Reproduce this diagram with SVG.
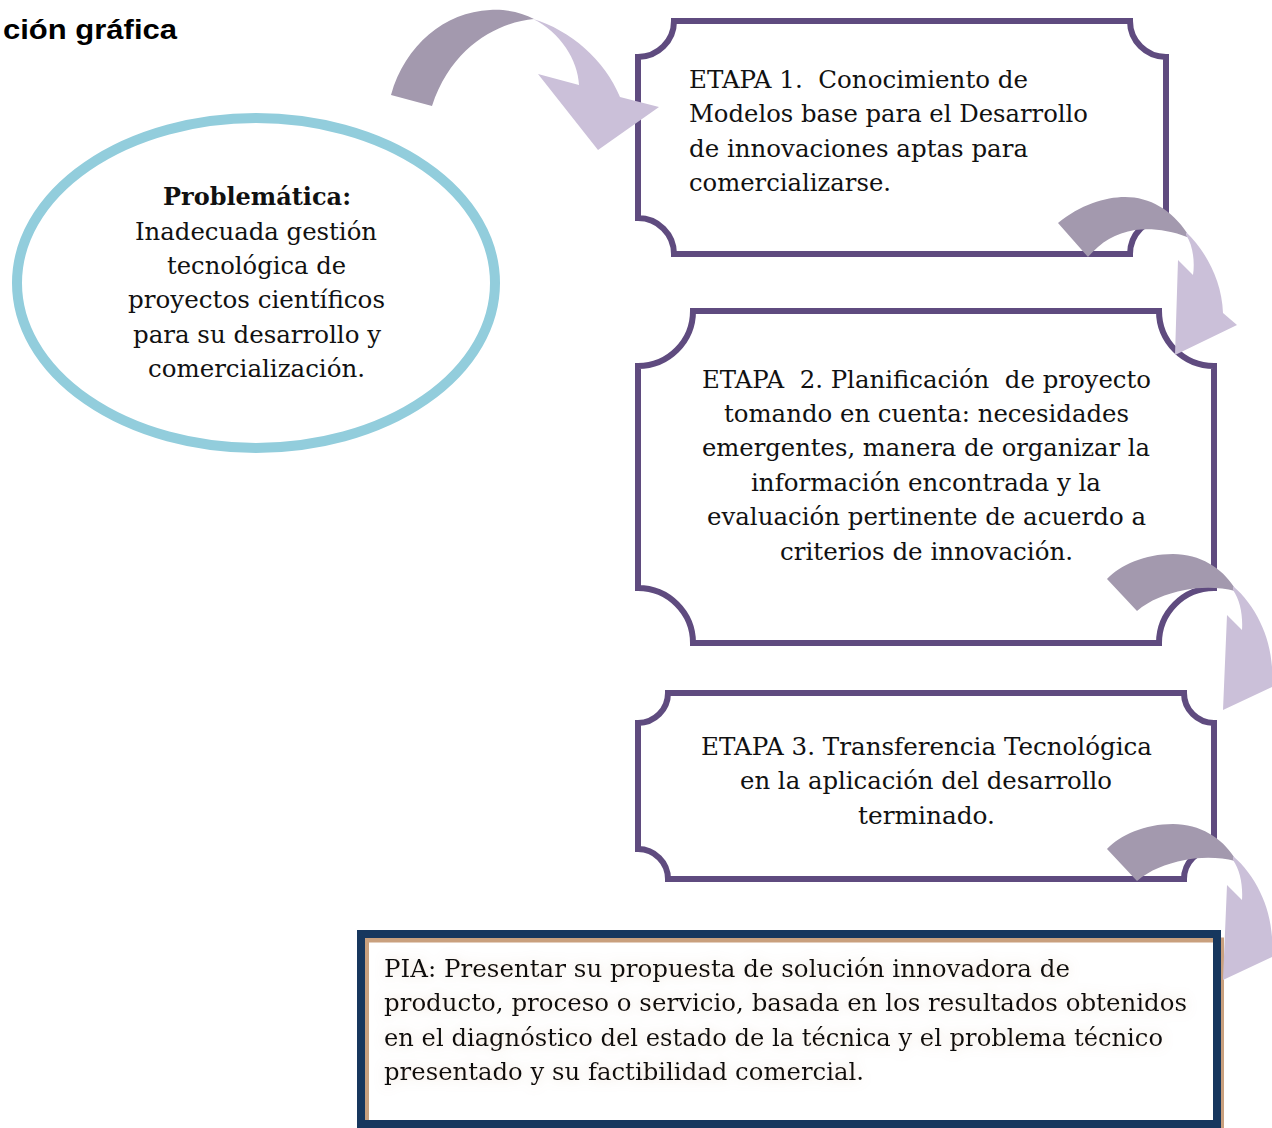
<svg xmlns="http://www.w3.org/2000/svg" width="1272" height="1128" viewBox="0 0 1272 1128">
<defs>
<style>
.t{font-family:"DejaVu Serif","Liberation Serif",serif;font-size:25px;fill:#111;white-space:pre}
.b{font-weight:bold}
.box{fill:#fff;stroke:#5f4b7f;stroke-width:6}
.dk{fill:#a399ae}
.lt{fill:#cbc0d9}
</style>
<filter id="glow" x="-5%" y="-20%" width="110%" height="140%">
<feGaussianBlur in="SourceAlpha" stdDeviation="6" result="b"/>
<feFlood flood-color="#c9a07e" flood-opacity="0.35"/>
<feComposite in2="b" operator="in" result="s"/>
<feMerge><feMergeNode in="s"/><feMergeNode in="SourceGraphic"/></feMerge>
</filter>
</defs>
<rect width="1272" height="1128" fill="#fff"/>
<text x="3" y="39" textLength="174" lengthAdjust="spacingAndGlyphs" style="font-family:'Liberation Sans',Arial,sans-serif;font-weight:bold;font-size:27px;fill:#000">ción gráfica</text>

<g id="problematica">
<ellipse cx="256" cy="283" rx="239" ry="165" fill="#fff" stroke="#92cddc" stroke-width="10"/>
<text class="t b" x="163" y="205" textLength="188" lengthAdjust="spacingAndGlyphs">Problemática:</text>
<text class="t" x="135" y="240" textLength="242" lengthAdjust="spacingAndGlyphs">Inadecuada gestión</text>
<text class="t" x="167" y="274" textLength="179" lengthAdjust="spacingAndGlyphs">tecnológica de</text>
<text class="t" x="128" y="308" textLength="257" lengthAdjust="spacingAndGlyphs">proyectos científicos</text>
<text class="t" x="133" y="343" textLength="248" lengthAdjust="spacingAndGlyphs">para su desarrollo y</text>
<text class="t" x="148" y="377" textLength="217" lengthAdjust="spacingAndGlyphs">comercialización.</text>
</g>

<g id="etapa1">
<path class="box" d="M674,21 L1130,21 A36,36 0 0 0 1166,57 L1166,218 A36,36 0 0 0 1130,254 L674,254 A36,36 0 0 0 638,218 L638,57 A36,36 0 0 0 674,21 Z"/>
<text class="t" x="689" y="88" textLength="339" lengthAdjust="spacingAndGlyphs">ETAPA 1.  Conocimiento de</text>
<text class="t" x="689" y="122" textLength="399" lengthAdjust="spacingAndGlyphs">Modelos base para el Desarrollo</text>
<text class="t" x="689" y="157" textLength="339" lengthAdjust="spacingAndGlyphs">de innovaciones aptas para</text>
<text class="t" x="689" y="191" textLength="202" lengthAdjust="spacingAndGlyphs">comercializarse.</text>
</g>

<g id="etapa2">
<path class="box" d="M693,311 L1159,311 A55,55 0 0 0 1214,366 L1214,588 A55,55 0 0 0 1159,643 L693,643 A55,55 0 0 0 638,588 L638,366 A55,55 0 0 0 693,311 Z"/>
<text class="t" x="702" y="388" textLength="449" lengthAdjust="spacingAndGlyphs">ETAPA  2. Planificación  de proyecto</text>
<text class="t" x="724" y="422" textLength="405" lengthAdjust="spacingAndGlyphs">tomando en cuenta: necesidades</text>
<text class="t" x="702" y="456" textLength="448" lengthAdjust="spacingAndGlyphs">emergentes, manera de organizar la</text>
<text class="t" x="751" y="491" textLength="350" lengthAdjust="spacingAndGlyphs">información encontrada y la</text>
<text class="t" x="707" y="525" textLength="439" lengthAdjust="spacingAndGlyphs">evaluación pertinente de acuerdo a</text>
<text class="t" x="780" y="560" textLength="293" lengthAdjust="spacingAndGlyphs">criterios de innovación.</text>
</g>

<g id="etapa3">
<path class="box" d="M668,693 L1184,693 A30,30 0 0 0 1214,723 L1214,849 A30,30 0 0 0 1184,879 L668,879 A30,30 0 0 0 638,849 L638,723 A30,30 0 0 0 668,693 Z"/>
<text class="t" x="701" y="755" textLength="451" lengthAdjust="spacingAndGlyphs">ETAPA 3. Transferencia Tecnológica</text>
<text class="t" x="740" y="789" textLength="372" lengthAdjust="spacingAndGlyphs">en la aplicación del desarrollo</text>
<text class="t" x="858" y="824" textLength="137" lengthAdjust="spacingAndGlyphs">terminado.</text>
</g>

<g id="pia">
<rect x="366.5" y="940" width="855" height="200" fill="#fff" stroke="#c9a07e" stroke-width="5"/>
<rect x="361" y="934" width="856" height="190" fill="none" stroke="#17375e" stroke-width="8"/>
<g filter="url(#glow)">
<text class="t" x="384" y="977" textLength="686" lengthAdjust="spacingAndGlyphs">PIA: Presentar su propuesta de solución innovadora de</text>
<text class="t" x="384" y="1011" textLength="803" lengthAdjust="spacingAndGlyphs">producto, proceso o servicio, basada en los resultados obtenidos</text>
<text class="t" x="384" y="1046" textLength="779" lengthAdjust="spacingAndGlyphs">en el diagnóstico del estado de la técnica y el problema técnico</text>
<text class="t" x="384" y="1080" textLength="480" lengthAdjust="spacingAndGlyphs">presentado y su factibilidad comercial.</text>
</g>
</g>

<g id="connectors">
<g id="arrow0">
<path class="dk" d="M391,95 C405,45 445,12 490,10 C508,9 522,13 534,19 C500,22 452,45 432,106 Z"/>
<path class="lt" d="M533,19 C570,30 605,60 620,97 L659,107 L598,150 L538,74 L579,85 C578,60 560,32 533,19 Z"/>
</g>
<g id="arrow1">
<path class="dk" d="M1058,223 C1080,205 1105,197 1125,197 C1150,197 1172,210 1187,233 L1187,237 C1170,230 1150,228 1135,230 C1115,233 1100,243 1088,257 Z"/>
<path class="lt" d="M1186,232 C1205,250 1222,280 1223,313 L1237,325 L1175,355 L1178,260 L1193,275 C1195,262 1193,245 1186,235 Z"/>
</g>
<g id="arrow2">
<path class="dk" d="M1107,579 C1120,565 1145,554 1173,554 C1200,554 1222,568 1234,587 L1235,591 C1220,587 1200,587 1185,590 C1165,594 1150,600 1137,611 Z"/>
<path class="lt" d="M1233,586 C1255,605 1270,635 1272,667 L1287,680 L1223,710 L1227,615 L1242,630 C1243,615 1240,600 1233,590 Z"/>
</g>
<g id="arrow3" transform="translate(0,270)">
<path class="dk" d="M1107,579 C1120,565 1145,554 1173,554 C1200,554 1222,568 1234,587 L1235,591 C1220,587 1200,587 1185,590 C1165,594 1150,600 1137,611 Z"/>
<path class="lt" d="M1233,586 C1255,605 1270,635 1272,667 L1287,680 L1223,710 L1227,615 L1242,630 C1243,615 1240,600 1233,590 Z"/>
</g>
</g>
</svg>
